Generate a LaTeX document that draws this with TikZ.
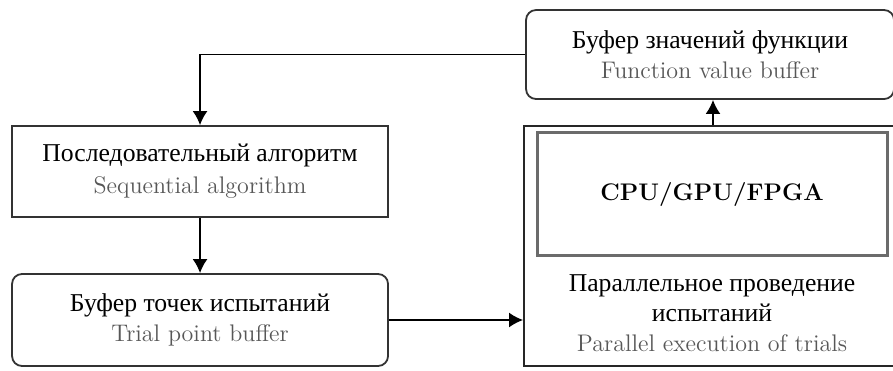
\documentclass[tikz,border=0pt]{standalone}
\usepackage{fontspec}
\newfontfamily\rufont[Scale=1.07]{Liberation Serif}
\usepackage{xcolor}
\usetikzlibrary{positioning,arrows.meta,calc}

\begin{document}
\begin{tikzpicture}[
    >={Latex[length=7pt,width=7.5pt]},
    font=\large,
    algbox/.style={
        draw=black!80, line width=0.9pt,
        minimum width=6.607cm, minimum height=1.599cm,
        align=center, text=black,
        execute at begin node={\setlength{\baselineskip}{16pt}}
    },
    bufbox/.style={
        draw=black!80, line width=0.9pt,
        rounded corners=5pt,
        minimum width=6.607cm, minimum height=1.617cm,
        align=center, text=black,
        execute at begin node={\setlength{\baselineskip}{15pt}}
    },
    parbox/.style={
        draw=black!85, line width=0.9pt,
        minimum width=6.643cm, minimum height=4.218cm
    },
    devbox/.style={
        draw=black!58, line width=1.5pt,
        minimum width=6.151cm, minimum height=2.144cm,
        font=\large\bfseries
    },
    partext/.style={
        align=center, text=black,
        execute at begin node={\setlength{\baselineskip}{15pt}}
    },
    every path/.append style={
        line width=0.9pt
    }
]

\useasboundingbox (0, 0) rectangle (15.692, -6.502);

\node[algbox] (seq) at (3.515, -3.014)
    {{\rufont Последовательный алгоритм}\\
     {\color{black!66}Sequential algorithm}};
\node[bufbox] (trial) at (3.515, -5.623)
    {{\rufont Буфер точек испытаний}\\
     {\color{black!66}Trial point buffer}};
\node[bufbox, minimum width=6.467cm, minimum height=1.564cm] (func) at (12.477, -0.958)
    {{\rufont Буфер значений функции}\\
     {\color{black!66}Function value buffer}};

\node[parbox] (par) at (12.529, -4.323) {};
\node[devbox] (dev) at (12.512, -3.409) {CPU/GPU/FPGA};
\node[partext] (ptext) at (12.512, -5.50)
    {{\rufont Параллельное проведение}\\
     {\rufont испытаний}\\
     {\color{black!66}Parallel execution of trials}};

\draw[->] (func.west) -| (seq.north);
\draw[->] (seq) -- (trial);
\draw[->] (trial.east) -- (trial.east -| par.west);
\draw[->] (par.north) -- (par.north |- func.south);

\end{tikzpicture}
\end{document}
